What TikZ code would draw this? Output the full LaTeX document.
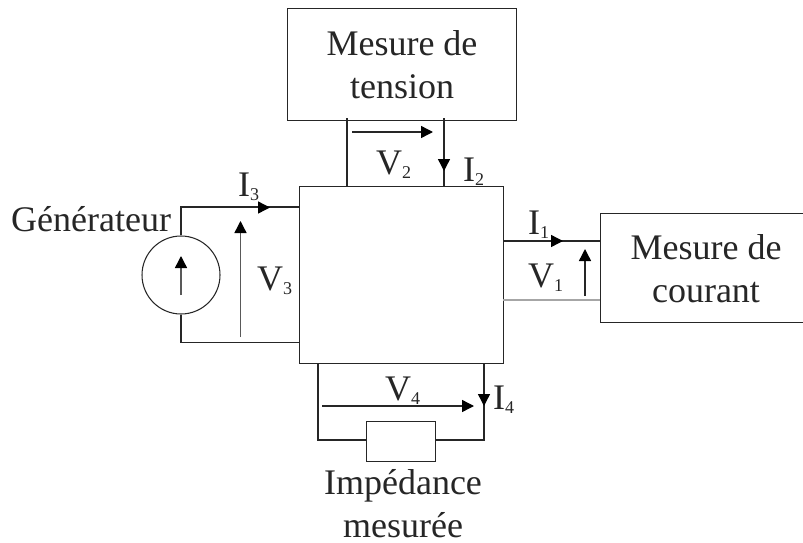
\documentclass[tikz,border=0pt]{standalone}
\usepackage{fontspec}
\setmainfont{Liberation Serif}
\usetikzlibrary{arrows.meta}
\definecolor{ink}{gray}{0.15}
\definecolor{stem}{gray}{0.35}
\tikzset{
 wire/.style={draw=ink,line width=1.05pt},
 arr/.style={draw=ink,line width=1.4pt,-{Triangle[length=12pt,width=12pt,color=black,fill=black]}},
 blockbox/.style={draw=ink,line width=1.2pt,fill=white,inner sep=0pt},
 txt/.style={font=\fontsize{36}{42.5}\selectfont,align=center,inner sep=0pt,text=ink},
 lab/.style={font=\fontsize{36}{42}\selectfont,inner sep=0pt,text=ink},
}
\newcommand{\Sb}[2]{#1\raisebox{-4pt}{\fontsize{18}{18}\selectfont #2}}
\begin{document}
\begin{tikzpicture}[x=1pt,y=-1pt]
\useasboundingbox (0,0) rectangle (803,543);
% wires
\coordinate (t1) at (347,118); \coordinate (t1b) at (347,186);
\coordinate (t2) at (444,118); \coordinate (t2b) at (444,186);
\node[blockbox,minimum width=229pt,minimum height=112pt,anchor=north west] (top) at (287,8) {};
\draw[wire] (t1) -- (t1b);
\draw[wire] (t2) -- (t2b);
\node[txt,anchor=base] (toptxt) at (402,98) {Mesure de\\tension};
\node[blockbox,minimum width=204.5pt,minimum height=177pt,anchor=north west] (main) at (298.5,186) {};
\node[blockbox,minimum width=203pt,minimum height=109pt,anchor=north west] (right) at (600,213) {};
\node[txt,anchor=base] (righttxt) at (706,302) {Mesure de\\courant};
% generator
\node[draw=ink,line width=1.05pt,circle,minimum size=78pt,inner sep=0pt] (gen) at (181,275) {};
\coordinate (g1) at (181,207); \coordinate (g1r) at (298.5,207);
\coordinate (g2) at (181,342.5); \coordinate (g2r) at (298.5,342.5);
\draw[wire] (gen.north) -- (g1) -- (g1r);
\draw[wire] (gen.south) -- (g2) -- (g2r);
\coordinate (ga) at (181,295); \coordinate (gb) at (181,256);
\draw[arr,draw=stem] (ga) -- (gb);
\node[txt,anchor=base west] (gtxt) at (11,231) {Générateur};
% I3, V3
\coordinate (i3a) at (234,207.5); \coordinate (i3b) at (270,207.5);
\draw[arr] (i3a) -- (i3b);
\node[lab,anchor=base west] (i3) at (238,196) {\Sb{I}{3}};
\coordinate (v3a) at (240.5,337); \coordinate (v3b) at (240.5,221);
\draw[arr,draw=stem] (v3a) -- (v3b);
\node[lab,anchor=base west] (v3) at (257,290) {\Sb{V}{3}};
% top arrows
\coordinate (v2a) at (352,132); \coordinate (v2b) at (433,132);
\draw[arr] (v2a) -- (v2b);
\node[lab,anchor=base west] (v2) at (376,174) {\Sb{V}{2}};
\coordinate (i2a) at (444,135); \coordinate (i2b) at (444,171);
\draw[arr] (i2a) -- (i2b);
\node[lab,anchor=base west] (i2) at (463,181) {\Sb{I}{2}};
% right wires
\coordinate (r1a) at (503,241); \coordinate (r1b) at (600,241);
\draw[wire] (r1a) -- (r1b);
\coordinate (r2a) at (503,300); \coordinate (r2b) at (600,300);
\draw[draw=gray!70,line width=1.6pt] (r2a) -- (r2b);
\coordinate (i1a) at (530,241); \coordinate (i1b) at (563,241);
\draw[arr] (i1a) -- (i1b);
\node[lab,anchor=base west] (i1) at (528,234) {\Sb{I}{1}};
\coordinate (v1a) at (585,296); \coordinate (v1b) at (585,249);
\draw[arr] (v1a) -- (v1b);
\node[lab,anchor=base west] (v1) at (528,287) {\Sb{V}{1}};
% bottom
\coordinate (b1) at (318,363); \coordinate (b1b) at (318,440);
\coordinate (b2) at (484,363); \coordinate (b2b) at (484,440);
\node[blockbox,minimum width=69pt,minimum height=40pt,anchor=north west] (z) at (366,421) {};
\draw[wire] (b1) -- (b1b) -- (z.west |- b1b);
\draw[wire] (b2) -- (b2b) -- (z.east |- b2b);
\coordinate (v4a) at (322,406); \coordinate (v4b) at (474,406);
\draw[arr] (v4a) -- (v4b);
\node[lab,anchor=base west] (v4) at (385,400) {\Sb{V}{4}};
\coordinate (i4a) at (484,372); \coordinate (i4b) at (484,406);
\draw[arr] (i4a) -- (i4b);
\node[lab,anchor=base west] (i4) at (493,409) {\Sb{I}{4}};
\node[txt,anchor=base] (ztxt) at (403,537) {Impédance\\mesurée};
\end{tikzpicture}
\end{document}
